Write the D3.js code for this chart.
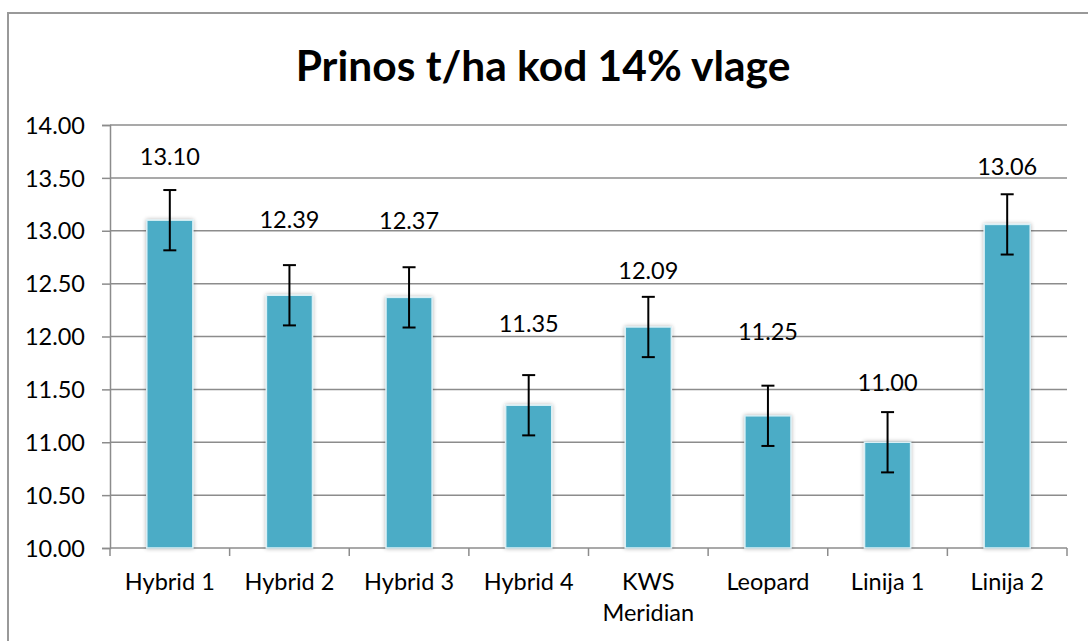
<!DOCTYPE html>
<html lang="en">
<head>
<meta charset="UTF-8">
<title>Prinos t/ha kod 14% vlage</title>
<script src="https://cdn.jsdelivr.net/npm/d3@7"></script>
<style>
  body{margin:0;background:#fff;}
  text{font-family:Lato,"Open Sans",sans-serif;fill:#000;}
</style>
</head>
<body>
<div id="graphWrap"></div>
<script>
// data
var categories=["Hybrid 1","Hybrid 2","Hybrid 3","Hybrid 4","KWS\nMeridian","Leopard","Linija 1","Linija 2"];
var yields=[13.10,12.39,12.37,11.35,12.09,11.25,11.00,13.06];
var errors=[0.285,0.285,0.285,0.285,0.285,0.285,0.285,0.285];
var yTicks=[10,10.5,11,11.5,12,12.5,13,13.5,14];
var title="Prinos t/ha kod 14% vlage";

// label lift above bar top, px (labels were hand placed in the original)
var labelLift=[63,75,77,81,56,84,59,58];

var W=1088,H=641;
var m={left:110,right:21,top:125,bottom:93};

var svg=d3.select("#graphWrap").append("svg").attr("width",W).attr("height",H);

var defs=svg.append("defs");
var f=defs.append("filter").attr("id","shadow").attr("x","-30%").attr("y","-10%").attr("width","160%").attr("height","120%");
f.append("feGaussianBlur").attr("in","SourceAlpha").attr("stdDeviation",2.2).attr("result","b");
f.append("feComponentTransfer").attr("in","b").attr("result","b2")
  .append("feFuncA").attr("type","linear").attr("slope",0.3);
var mg=f.append("feMerge");
mg.append("feMergeNode").attr("in","b2");
mg.append("feMergeNode").attr("in","SourceGraphic");

// outer chart border (runs off the right and bottom edge)
svg.append("rect").attr("x",8).attr("y",13).attr("width",W+20).attr("height",H+20)
  .attr("fill","#fff").attr("stroke","#999").attr("stroke-width",2);

var x=d3.scaleBand().domain(categories).range([m.left,W-m.right]).paddingInner(0.615).paddingOuter(0.3075);
var y=d3.scaleLinear().domain([10,14]).range([H-m.bottom,m.top]);

// grid lines
svg.append("g").selectAll("line").data(yTicks.slice(1)).enter().append("line")
  .attr("x1",m.left).attr("x2",W-m.right)
  .attr("y1",function(d){return y(d);}).attr("y2",function(d){return y(d);})
  .attr("stroke","#8c8c8c").attr("stroke-width",1.5);

// y axis
var yAxis=svg.append("g").attr("transform","translate("+m.left+",0)")
  .call(d3.axisLeft(y).tickValues(yTicks).tickFormat(d3.format(".2f")).tickSize(8).tickPadding(17));
yAxis.selectAll("path,line").attr("stroke","#8c8c8c").attr("stroke-width",1.5);
yAxis.selectAll("text").style("font-size","23.5px").attr("dy","0.35em");

// x axis
var step=x.step();
var bounds=d3.range(categories.length+1).map(function(i){return m.left+i*step;});
var xg=svg.append("g");
xg.append("line").attr("x1",m.left).attr("x2",W-m.right).attr("y1",y(10)).attr("y2",y(10))
  .attr("stroke","#8c8c8c").attr("stroke-width",1.5);
xg.selectAll("line.tk").data(bounds).enter().append("line").attr("class","tk")
  .attr("x1",function(d){return d;}).attr("x2",function(d){return d;})
  .attr("y1",y(10)).attr("y2",y(10)+8).attr("stroke","#8c8c8c").attr("stroke-width",1.5);
xg.selectAll("text").data(categories).enter().append("text")
  .attr("text-anchor","middle").style("font-size","23.5px")
  .attr("transform",function(d){return "translate("+(x(d)+x.bandwidth()/2)+","+(y(10)+42)+")";})
  .each(function(d){
    var t=d3.select(this);
    d.split("\n").forEach(function(s,i){
      t.append("tspan").attr("x",0).attr("dy",i?31:0).text(s);
    });
  });

// bars
svg.append("g").selectAll("rect").data(yields).enter().append("rect")
  .attr("x",function(d,i){return x(categories[i]);})
  .attr("width",x.bandwidth())
  .attr("y",function(d){return y(d);})
  .attr("height",function(d){return y(10)-y(d);})
  .attr("fill","#4bacc6").attr("stroke","#d9eff5").attr("stroke-width",1.5)
  .attr("filter","url(#shadow)");

// error bars
var eb=svg.append("g").attr("stroke","#000").attr("stroke-width",2);
yields.forEach(function(v,i){
  var cx=x(categories[i])+x.bandwidth()/2;
  eb.append("line").attr("x1",cx).attr("x2",cx).attr("y1",y(v+errors[i])).attr("y2",y(v-errors[i]));
  eb.append("line").attr("x1",cx-6.5).attr("x2",cx+6.5).attr("y1",y(v+errors[i])).attr("y2",y(v+errors[i]));
  eb.append("line").attr("x1",cx-6.5).attr("x2",cx+6.5).attr("y1",y(v-errors[i])).attr("y2",y(v-errors[i]));
});

// value labels
svg.append("g").selectAll("text").data(yields).enter().append("text")
  .attr("x",function(d,i){return x(categories[i])+x.bandwidth()/2;})
  .attr("y",function(d,i){return y(d)-labelLift[i];})
  .attr("dy","0.35em").attr("text-anchor","middle").style("font-size","23.5px")
  .text(function(d){return d3.format(".2f")(d);});

// title
svg.append("text").attr("x",543).attr("y",66).attr("dy","0.35em").attr("text-anchor","middle")
  .style("font-size","42.5px").style("font-weight","bold").text(title);
</script>
</body>
</html>
